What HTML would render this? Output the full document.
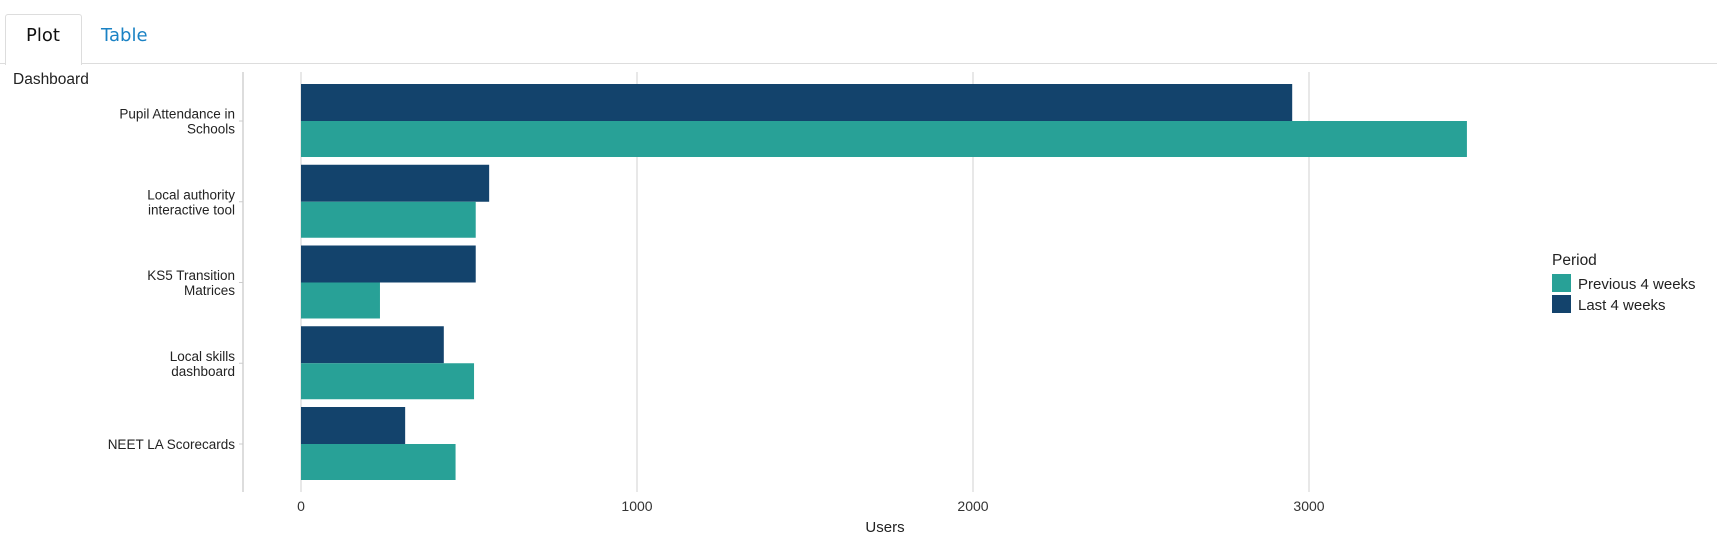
<!DOCTYPE html>
<html><head><meta charset="utf-8"><style>
body{margin:0;width:1717px;height:553px;background:#fff;overflow:hidden;font-family:"Liberation Sans",sans-serif;}
.tab{position:absolute;font-family:"DejaVu Sans","Liberation Sans",sans-serif;font-size:18px;}
</style></head><body>
<div style="position:absolute;left:0;top:63px;width:1717px;height:1px;background:#ddd"></div>
<div style="position:absolute;left:5px;top:14px;width:75px;height:50px;border:1px solid #ddd;border-bottom:none;border-radius:3px 3px 0 0;background:#fff"></div>
<div class="tab" style="left:26px;top:25px;color:#111">Plot</div>
<div class="tab" style="left:101px;top:25px;color:#1a82c4">Table</div>
<svg id="chart" width="1717" height="553" style="position:absolute;left:0;top:0"></svg>
<script>
const categories=["Pupil Attendance in|Schools","Local authority|interactive tool","KS5 Transition|Matrices","Local skills|dashboard","NEET LA Scorecards"];
const lastWeeks=[2950,560,520,425,310];
const prevWeeks=[3470,520,235,515,460];
const ticks=[0,1000,2000,3000];
const NS="http://www.w3.org/2000/svg";
const svg=document.getElementById('chart');
const x=v=>301+v*0.336;
const yc=i=>121+i*80.75;
function mk(t,a,txt){const e=document.createElementNS(NS,t);for(const k in a)e.setAttribute(k,a[k]);if(txt!==undefined)e.textContent=txt;svg.appendChild(e);return e;}
ticks.forEach(t=>{
 const g=mk('line',{x1:x(t),x2:x(t),y1:72,y2:492,stroke:'#e0e0e0','stroke-width':1.5});
 
 
 const l=mk('text',{x:x(t),y:511,'text-anchor':'middle','font-size':14,fill:'#333'},t);
 
 
});
const ax=mk('line',{x1:243,x2:243,y1:72,y2:492,stroke:'#ddd','stroke-width':2});


categories.forEach((c,i)=>{
 const cy=yc(i);
 const b1=mk('rect',{x:x(0),y:cy-37,width:x(lastWeeks[i])-x(0),height:37,fill:'#13436c'});
 
 
 const b2=mk('rect',{x:x(0),y:cy,width:x(prevWeeks[i])-x(0),height:36,fill:'#28a197'});
 
 
 const tk=mk('line',{x1:239,x2:243,y1:cy,y2:cy,stroke:'#ccc'});
 
 
 const parts=c.split('|');
 parts.forEach((p,j)=>{
  const ty=cy+5+(j-(parts.length-1)/2)*15;
  const t=mk('text',{x:235,y:ty,'text-anchor':'end','font-size':13.5,fill:'#222'},p);
  
  
 });
});
const yt=mk('text',{x:13,y:84,'font-size':15.5,fill:'#222'},'Dashboard');


const xt=mk('text',{x:885,y:532,'text-anchor':'middle','font-size':15,fill:'#222'},'Users');


const lt=mk('text',{x:1552,y:265,'font-size':15.5,fill:'#222'},'Period');


[['Previous 4 weeks','#28a197',274],['Last 4 weeks','#13436c',295]].forEach(([n,col,yy])=>{
 const s=mk('rect',{x:1552,y:yy,width:19,height:18,fill:col});
 
 
 const t=mk('text',{x:1578,y:yy+15,'font-size':15,fill:'#222'},n);
 
 
});
</script>
</body></html>
